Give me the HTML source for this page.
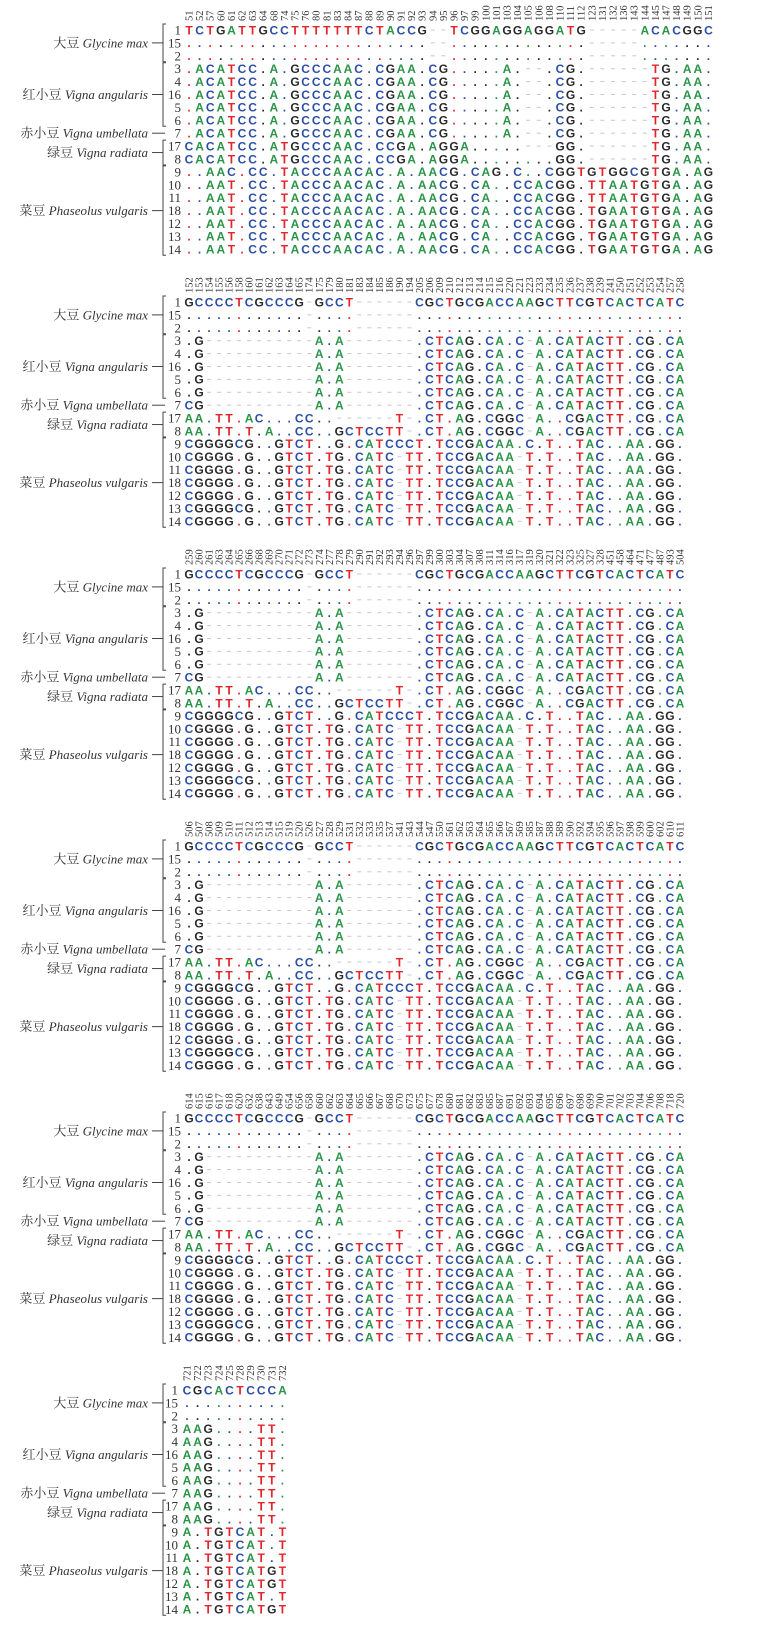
<!DOCTYPE html>
<html><head><meta charset="utf-8">
<style>
html,body{margin:0;padding:0;background:#fff;}
svg{display:block;}
</style></head>
<body>
<svg id="fig" width="770" height="1634" viewBox="0 0 770 1634" xmlns="http://www.w3.org/2000/svg"></svg>
<script>
// ---- data ----
const rowLabels = ['1','15','2','3','4','16','5','6','7','17','8','9','10','11','18','12','13','14'];
const speciesNames = ['大豆 ','红小豆 ','赤小豆 ','绿豆 ','菜豆 '];
const speciesLatin = ['Glycine max','Vigna angularis','Vigna umbellata','Vigna radiata','Phaseolus vulgaris'];
const speciesStart = [0,3,8,9,11];
const speciesEnd = [2,7,8,10,17];

const pos1 = [51,52,57,60,61,62,63,64,68,74,75,76,80,81,83,84,87,88,89,90,91,92,93,94,95,96,97,99,100,101,103,104,105,106,108,110,111,112,123,131,132,136,143,144,145,147,148,149,150,151];
const pos2 = [152,153,154,155,156,158,160,161,162,163,164,165,174,175,179,180,181,183,184,185,186,190,194,205,206,209,210,212,213,214,215,216,220,221,223,233,234,235,236,237,238,239,241,250,251,252,253,254,257,258];
const pos3 = [259,260,261,263,264,265,266,268,269,270,271,272,273,274,277,278,279,290,291,292,293,294,296,297,299,300,303,304,307,308,311,314,316,317,319,320,321,322,323,325,327,328,451,458,464,471,477,487,493,504];
const pos4 = [506,507,508,509,510,511,512,513,514,515,519,520,526,527,528,529,531,532,533,535,537,541,543,544,547,550,561,562,563,564,565,566,567,569,585,587,588,589,590,592,594,595,596,597,598,599,600,602,610,611];
const pos5 = [614,615,616,617,618,620,632,638,643,649,654,656,658,660,662,663,664,665,666,667,668,670,673,675,677,678,680,681,682,683,685,687,691,692,693,694,695,696,697,698,699,700,701,702,703,704,706,708,718,720];
const pos6 = [721,722,723,724,725,728,729,730,731,732];

const seqA = [
'TCTGATTGCCTTTTTTTCTACCG--TCGGAGGAGGATG-----ACACGGC',
'.......................--.............-----.......',
'.......................--.............-----.......',
'.ACATCC.A.GCCCAAC.CGAA.CG.....A.--.CG.------TG.AA.',
'.ACATCC.A.GCCCAAC.CGAA.CG.....A.--.CG.------TG.AA.',
'.ACATCC.A.GCCCAAC.CGAA.CG.....A.--.CG.------TG.AA.',
'.ACATCC.A.GCCCAAC.CGAA.CG.....A.--.CG.------TG.AA.',
'.ACATCC.A.GCCCAAC.CGAA.CG.....A.--.CG.------TG.AA.',
'.ACATCC.A.GCCCAAC.CGAA.CG.....A.--.CG.------TG.AA.',
'CACATCC.ATGCCCAAC.CCGA.AGGA.....---GG.------TG.AA.',
'CACATCC.ATGCCCAAC.CCGA.AGGA........GG.------TG.AA.',
'..AAC.CC.TACCCAACAC.A.AACG.CAG.C..CGGTGTGGCGTGA.AG',
'..AAT.CC.TACCCAACAC.A.AACG.CA..CCACGG.TTAATGTGA.AG',
'..AAT.CC.TACCCAACAC.A.AACG.CA..CCACGG.TTAATGTGA.AG',
'..AAT.CC.TACCCAACAC.A.AACG.CA..CCACGG.TGAATGTGA.AG',
'..AAT.CC.TACCCAACAC.A.AACG.CA..CCACGG.TGAATGTGA.AG',
'..AAT.CC.TACCCAACAC.A.AACG.CA..CCACGG.TGAATGTGA.AG',
'..AAT.CC.TACCCAACAC.A.AACG.CA..CCACGG.TGAATGTGA.AG'
];
const seqB = [
'GCCCCTCGCCCG-GCCT------CGCTGCGACCAAGCTTCGTCACTCATC',
'............-....------...........................',
'............-....------...........................',
'.G-----------A.A-------.CTCAG.CA.C-A.CATACTT.CG.CA',
'.G-----------A.A-------.CTCAG.CA.C-A.CATACTT.CG.CA',
'.G-----------A.A-------.CTCAG.CA.C-A.CATACTT.CG.CA',
'.G-----------A.A-------.CTCAG.CA.C-A.CATACTT.CG.CA',
'.G-----------A.A-------.CTCAG.CA.C-A.CATACTT.CG.CA',
'CG-----------A.A-------.CTCAG.CA.C-A.CATACTT.CG.CA',
'AA.TT.AC...CC..------T-.CT.AG.CGGC-A..CGACTT.CG.CA',
'AA.TT.T.A..CC..GCTCCTT-.CT.AG.CGGC-A..CGACTT.CG.CA',
'CGGGGCG..GTCT..G.CATCCCT.TCCGACAA.C.T..TAC..AA.GG.',
'CGGGG.G..GTCT.TG.CATC-TT.TCCGACAA-T.T..TAC..AA.GG.',
'CGGGG.G..GTCT.TG.CATC-TT.TCCGACAA-T.T..TAC..AA.GG.',
'CGGGG.G..GTCT.TG.CATC-TT.TCCGACAA-T.T..TAC..AA.GG.',
'CGGGG.G..GTCT.TG.CATC-TT.TCCGACAA-T.T..TAC..AA.GG.',
'CGGGGCG..GTCT.TG.CATC-TT.TCCGACAA-T.T..TAC..AA.GG.',
'CGGGG.G..GTCT.TG.CATC-TT.TCCGACAA-T.T..TAC..AA.GG.'
];
const seqC = [
'CGCACTCCCA','..........','..........',
'AAG....TT.','AAG....TT.','AAG....TT.','AAG....TT.','AAG....TT.','AAG....TT.','AAG....TT.','AAG....TT.',
'A.TGTCAT.T','A.TGTCAT.T','A.TGTCAT.T','A.TGTCATGT','A.TGTCATGT','A.TGTCAT.T','A.TGTCATGT'
];
const blockPositions = [pos1,pos2,pos3,pos4,pos5,pos6];
const blockSeqs = [seqA,seqB,seqB,seqB,seqB,seqC];

// ---- layout ----
const blockX0 = [189,189,189,189,189,187];
const blockPitch = [10.6,10.02,10.02,10.02,10.02,10.6];
const labelRight = [181,181,181,181,181,178];
const firstRowY = 30, blockStep = 272, rowPitch = 12.9;
const baseColor = {A:'#2a9447',C:'#2b4ea6',G:'#2a2a2a',T:'#e2252b'};
const NS='http://www.w3.org/2000/svg';
const svg=document.getElementById('fig');
function mk(tag,attrs,parent){const e=document.createElementNS(NS,tag);for(const k in attrs)e.setAttribute(k,attrs[k]);(parent||svg).appendChild(e);return e;}
function xScale(b,i){return blockX0[b]+i*blockPitch[b];}
function yScale(b,r){return firstRowY+b*blockStep+r*rowPitch;}

blockPositions.forEach((positions,b)=>{
  const g=mk('g',{});
  
  
  const seqs=blockSeqs[b];
  const ref=seqs[0];
  positions.forEach((p,i)=>{
    const x=xScale(b,i)+3.5, y=yScale(b,0)-9;
    const t=mk('text',{x:x,y:y,transform:'rotate(-90 '+x+' '+y+')','font-family':'Liberation Serif, serif','font-size':'10.5','fill':'#333'},g);
    
    
    t.textContent=p;
  });
  seqs.forEach((s,r)=>{
    const y=yScale(b,r);
    const lab=mk('text',{x:labelRight[b],y:y+4.5,'text-anchor':'end','font-family':'Liberation Serif, serif','font-size':'13','fill':'#333'},g);
    
    
    lab.textContent=rowLabels[r];
    for(let i=0;i<positions.length;i++){
      const ch=s[i]||'.';
      const x=xScale(b,i);
      if(ch==='-'){
        const d=mk('line',{x1:x-2,x2:x+2,y1:y,y2:y,stroke:'#c8c8c8','stroke-width':'1'},g);
        
        
      } else {
        const col = ch==='.' ? (baseColor[ref[i]]||'#2b4ea6') : baseColor[ch];
        const t=mk('text',{x:x,y:y+4.3,'text-anchor':'middle','font-family':'Liberation Sans, sans-serif','font-weight':'bold','font-size':'12','fill':col},g);
        
        
        t.textContent=ch;
      }
    }
  });
  speciesNames.forEach((nm,k)=>{
    const y0=yScale(b,speciesStart[k]), y1=yScale(b,speciesEnd[k]);
    const ym=(y0+y1)/2;
    const t=mk('text',{x:148,y:ym+4.5,'text-anchor':'end','font-family':'Liberation Serif, Noto Serif CJK SC, serif','font-size':'13','fill':'#333'},g);
    
    
    const cn=mk('tspan',{},t); cn.textContent=nm;
    const la=mk('tspan',{'font-style':'italic'},t); la.textContent=speciesLatin[k];
    if(speciesStart[k]===speciesEnd[k]){
      const l=mk('line',{x1:152,x2:165,y1:ym,y2:ym,stroke:'#444','stroke-width':'1'},g);
      
      
    } else {
      const l=mk('line',{x1:152,x2:163,y1:ym,y2:ym,stroke:'#444','stroke-width':'1'},g);
      
      
      const br=mk('path',{d:'M166 '+(y0-6)+' L163 '+(y0-6)+' L163 '+(y1+6)+' L166 '+(y1+6),fill:'none',stroke:'#444','stroke-width':'1'},g);
      
      
    }
  });
});
</script>
</body></html>
